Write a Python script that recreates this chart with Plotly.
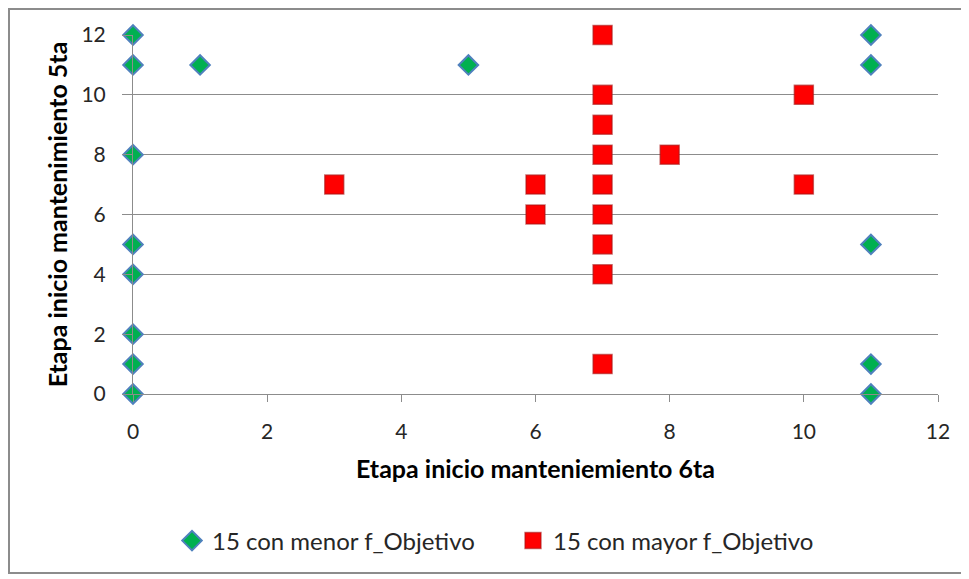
import plotly.graph_objects as go

# Data: (x = Etapa inicio 6ta, y = Etapa inicio 5ta)
menor_x = [0, 0, 1, 5, 11, 11, 0, 0, 0, 0, 0, 0, 11, 11, 11]
menor_y = [12, 11, 11, 11, 12, 11, 8, 5, 4, 2, 1, 0, 5, 1, 0]

mayor_x = [7, 7, 10, 7, 7, 8, 3, 6, 7, 10, 6, 7, 7, 7, 7]
mayor_y = [12, 10, 10, 9, 8, 8, 7, 7, 7, 7, 6, 6, 5, 4, 1]

x_ticks = [0, 2, 4, 6, 8, 10, 12]
y_ticks = [0, 2, 4, 6, 8, 10, 12]

FONT = "Lato"
GRID = "#8c8c8c"
OFF = 8  # page body margin

fig = go.Figure()
fig.add_trace(go.Scatter(
    x=menor_x, y=menor_y, mode="markers", name="15 con menor f_Objetivo",
    marker=dict(symbol="diamond", size=15, color="#00B050",
                line=dict(color="#4F81BD", width=2)),
    cliponaxis=False,
))
fig.add_trace(go.Scatter(
    x=mayor_x, y=mayor_y, mode="markers", name="15 con mayor f_Objetivo",
    marker=dict(symbol="square", size=19, color="#FF0000",
                line=dict(color="rgba(170,20,20,0.6)", width=1.5)),
    cliponaxis=False,
))

W, H = 969 - OFF, 579 - OFF
L, T = 133 - OFF, 35 - OFF
pw, ph = 805, 359
R = W - L - pw
B = H - T - ph

def px(xp):
    return (xp - OFF - L) / pw

def py(yp):
    return (T + ph - (yp - OFF)) / ph

fig.add_shape(type="rect", xref="paper", yref="paper",
              x0=px(OFF + 1), x1=px(962), y0=py(573), y1=py(OFF + 1),
              line=dict(color="#8c8c8c", width=2), layer="below")

fig.update_layout(
    width=W, height=H,
    margin=dict(l=L, r=R, t=T, b=B),
    paper_bgcolor="white", plot_bgcolor="white",
    font=dict(family=FONT, size=21, color="#262626"),
    showlegend=True,
    legend=dict(orientation="h", x=px(513), xanchor="center",
                y=py(541), yanchor="middle",
                font=dict(family=FONT, size=24, color="#262626"),
                entrywidth=296, entrywidthmode="pixels",
                tracegroupgap=0, traceorder="normal"),
    xaxis=dict(range=[0, 12], tickvals=x_ticks, showgrid=False,
               zeroline=False, showline=True, linecolor=GRID, linewidth=1,
               ticks="outside", ticklen=7, tickcolor=GRID,
               ticklabelstandoff=12,
               tickfont=dict(family=FONT, size=21, color="#262626"),
               title=dict(text="<b>Etapa inicio manteniemiento 6ta</b>",
                          font=dict(family=FONT, size=25, color="#000000"),
                          standoff=18)),
    yaxis=dict(range=[0, 12], tickvals=y_ticks, showgrid=True,
               gridcolor=GRID, gridwidth=1,
               zeroline=False, showline=True, linecolor=GRID, linewidth=1,
               ticks="outside", ticklen=10, tickcolor=GRID,
               ticklabelstandoff=12,
               tickfont=dict(family=FONT, size=21, color="#262626"),
               title=dict(text="<b>Etapa inicio mantenimiento 5ta</b>",
                          font=dict(family=FONT, size=25, color="#000000"),
                          standoff=6)),
)

fig.write_html("out.html")
